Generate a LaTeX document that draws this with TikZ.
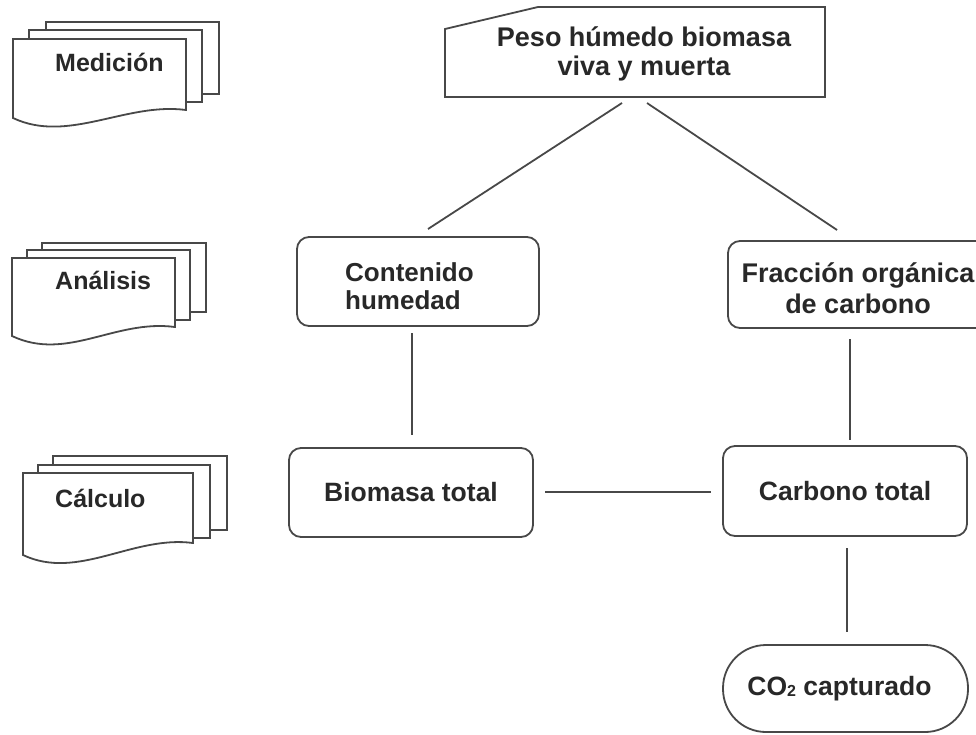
\documentclass[tikz,border=0pt]{standalone}
\usepackage{fontspec}
\setmainfont{Liberation Sans}
\definecolor{lc}{RGB}{72,72,72}
\definecolor{tc}{RGB}{40,40,40}
\newcommand{\mydocfront}[5]{%
  \draw[page] (#1,#3) -- (#2,#3) -- (#2,#4)
    .. controls ({#2-60},{#4-8}) and ({#1+55},{#5+26}) .. (#1,#5) -- cycle;}
\begin{document}
\begin{tikzpicture}[x=1pt,y=-1pt]
\tikzset{
  ln/.style={draw=lc, line width=1.8pt},
  page/.style={draw=lc, line width=1.8pt, fill=white},
  lbl/.style={font=\bfseries\fontsize{25}{29}\selectfont, text=tc, align=center, inner sep=0pt},
  mlbl/.style={lbl, font=\bfseries\fontsize{27}{29}\selectfont},
  box/.style={draw=lc, line width=1.8pt, rounded corners=12pt, fill=white, inner sep=0pt,
    font=\bfseries\fontsize{26.5}{29}\selectfont, text=tc, align=center},
}
\useasboundingbox (0,0) rectangle (976,734);

% ---- document stacks (left column)
\draw[page] (46,22) rectangle (219,94);
\draw[page] (29,30) rectangle (202,102);
\mydocfront{13}{186}{39}{110}{118}
\node[lbl, anchor=west] (med) at (55,62) {Medición};

\draw[page] (42,243) rectangle (206,312);
\draw[page] (27,250) rectangle (190,320);
\mydocfront{12}{175}{258}{327}{336}
\node[lbl, anchor=west] (ana) at (55,280) {Análisis};

\draw[page] (53,456) rectangle (227,530);
\draw[page] (38,465) rectangle (210,538);
\mydocfront{23}{193}{473}{543}{555}
\node[lbl, anchor=west] (cal) at (55,498) {Cálculo};

% ---- manual input (top)
\draw[page] (445,29) -- (538,7) -- (825,7) -- (825,97) -- (445,97) -- cycle;
\node[mlbl] (peso) at (644,54) {Peso húmedo biomasa\\viva y muerta};

% ---- boxes
\node[box, minimum width=242pt, minimum height=89pt] (cont) at (418,281.5) {};
\node[mlbl, align=left, anchor=west, font=\bfseries\fontsize{26}{28}\selectfont] (contt) at (345,286) {Contenido\\humedad};
\node[box, minimum width=260pt, minimum height=87pt] (frac) at (858,284.5) {};
\node[mlbl, font=\bfseries\fontsize{27}{31}\selectfont] (fract) at (858,288) {Fracción orgánica\\de carbono};
\node[box, minimum width=244pt, minimum height=89pt] (bio) at (411,492.5) {Biomasa total};
\node[box, minimum width=244pt, minimum height=90pt] (carb) at (845,491) {Carbono total};
\node[box, rounded corners=43pt, minimum width=245pt, minimum height=87pt] (co2) at (845.5,688.5)
  {CO\raisebox{-1pt}{\fontsize{16}{16}\selectfont 2} capturado\hspace{12pt}};

% ---- connector ends
\coordinate (p1) at (622,103);
\coordinate (p2) at (647,103);
\coordinate (c1) at (428,229);
\coordinate (f1) at (837,230);
\coordinate (c2) at (412,333);
\coordinate (b1) at (412,435);
\coordinate (f2) at (850,339);
\coordinate (k1) at (850,440);
\coordinate (b2) at (545,492);
\coordinate (k2) at (711,492);
\coordinate (k3) at (847,548);
\coordinate (o1) at (847,632);

\draw[ln] (p1) -- (c1);
\draw[ln] (p2) -- (f1);
\draw[ln] (c2) -- (b1);
\draw[ln] (f2) -- (k1);
\draw[ln] (b2) -- (k2);
\draw[ln] (k3) -- (o1);
\end{tikzpicture}
\end{document}
